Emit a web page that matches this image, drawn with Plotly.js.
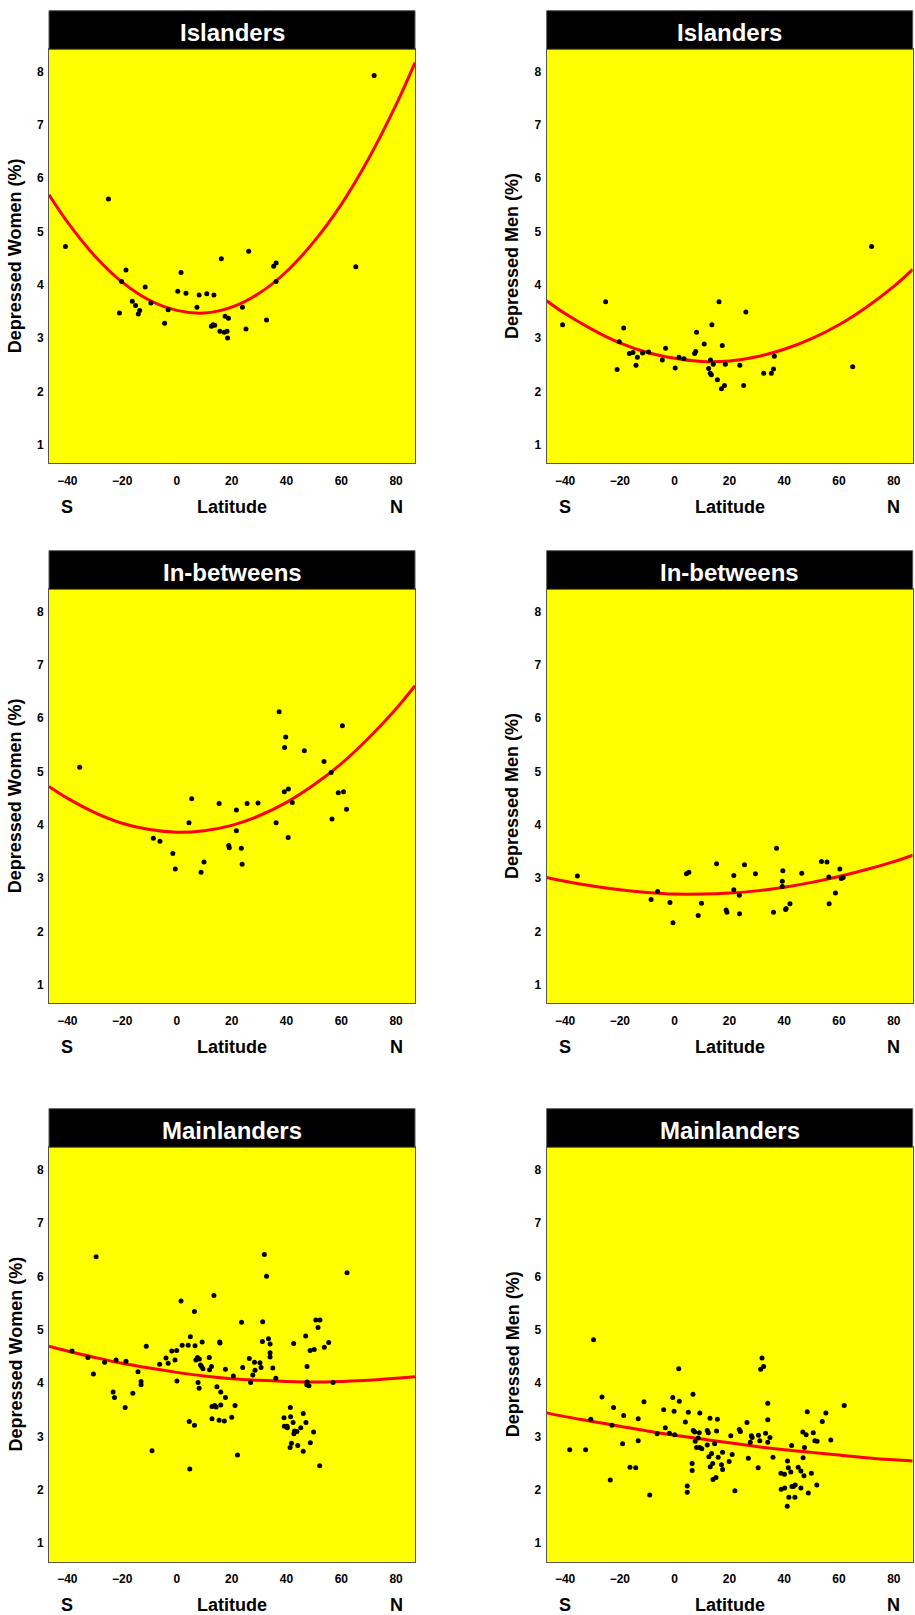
<!DOCTYPE html>
<html>
<head>
<meta charset="utf-8">
<script src="https://cdn.plot.ly/plotly-3.0.1.min.js"></script>
<style>
  html, body { margin: 0; padding: 0; background: #ffffff; }
  #chart { width: 915px; height: 1615px; }
</style>
</head>
<body>
<div id="chart"></div>
<script>
// ---------------- DATA ----------------
const panelTitles = ["Islanders", "In-betweens", "Mainlanders"];
const yTitles = ["Depressed Women (%)", "Depressed Men (%)"];
const xTickVals = [-40, -20, 0, 20, 40, 60, 80];
const yTickVals = [1, 2, 3, 4, 5, 6, 7, 8];
const xLabelLeft = "S", xLabelMid = "Latitude", xLabelRight = "N";

// Islanders – women
const islWomenLat = [72.0,-25.0,-40.7,-18.6,-20.2,-11.6,-16.3,-15.1,-13.6,-14.1,-21.0,-9.5,-3.2,-4.5,0.3,1.5,3.3,8.1,7.3,10.9,13.5,16.2,12.6,13.2,13.8,15.7,17.3,18.3,18.5,17.6,18.8,23.9,25.2,26.2,32.7,35.3,36.2,36.2,65.3];
const islWomenPct = [7.93,5.61,4.72,4.28,4.06,3.96,3.69,3.61,3.52,3.45,3.47,3.66,3.53,3.28,3.88,4.23,3.84,3.81,3.58,3.83,3.81,4.49,3.22,3.25,3.24,3.13,3.11,3.13,3.00,3.41,3.37,3.58,3.17,4.63,3.34,4.35,4.41,4.06,4.34];
// Islanders – men
const islMenLat = [71.9,-40.9,-25.2,-18.6,-20.2,-21.0,-16.5,-15.2,-13.6,-14.1,-11.7,-9.5,-4.5,-3.3,0.2,1.6,3.4,7.3,7.7,8.0,10.8,13.6,16.2,17.4,13.1,14.1,12.4,13.0,13.4,15.6,17.1,18.2,18.5,23.8,25.2,26.0,32.5,35.3,36.1,36.4,65.0];
const islMenPct = [4.72,3.25,3.68,3.19,2.93,2.41,2.71,2.73,2.64,2.49,2.72,2.74,2.59,2.81,2.44,2.64,2.61,2.71,2.75,3.11,2.89,3.25,3.68,2.86,2.59,2.51,2.43,2.34,2.31,2.22,2.05,2.11,2.51,2.49,2.11,3.49,2.34,2.34,2.42,2.66,2.46];
// In-betweens – women
const inbWomenLat = [-35.5,-8.6,-6.2,-1.5,-0.6,4.4,5.4,8.8,9.9,15.4,18.9,19.1,21.7,21.7,23.5,23.8,25.6,29.6,36.2,37.3,39.3,39.7,39.2,40.7,40.6,42.1,46.5,53.7,56.3,56.6,58.9,60.4,60.8,61.9];
const inbWomenPct = [5.08,3.75,3.69,3.46,3.17,4.04,4.49,3.11,3.30,4.40,3.61,3.57,4.28,3.89,3.56,3.26,4.40,4.41,4.04,6.12,5.45,5.65,4.62,4.67,3.76,4.42,5.39,5.19,4.98,4.11,4.60,5.86,4.62,4.29];
// In-betweens – men
const inbMenLat = [-35.5,-8.6,-6.2,-1.7,-0.6,4.3,5.2,8.6,9.8,15.3,18.8,19.1,21.6,21.6,23.6,23.7,25.5,29.5,36.1,37.2,39.3,39.5,39.3,40.5,40.7,42.1,46.4,53.6,55.6,56.3,56.4,58.7,60.3,60.8,61.5];
const inbMenPct = [3.04,2.60,2.75,2.54,2.16,3.08,3.11,2.30,2.53,3.27,2.40,2.36,3.05,2.78,2.68,2.33,3.25,3.08,2.36,3.56,2.94,3.14,2.84,2.41,2.43,2.52,3.09,3.31,3.30,3.02,2.52,2.72,3.17,2.99,3.01];
// Mainlanders – women
const mainWomenLat = [-29.5,-38.3,-32.5,-30.5,-26.4,-22.2,-18.6,-23.3,-22.8,-18.9,
  -16.1,-14.2,-13.1,-13.1,-11.2,-9.1,-6.3,-4.0,-3.2,-1.9,
  -0.7,-0.1,0.0,1.5,1.9,4.1,4.9,4.5,4.7,6.4,
  6.6,6.4,6.9,7.5,8.2,7.7,8.1,8.6,9.2,9.0,
  9.5,11.8,11.9,12.6,12.8,12.8,13.5,13.8,14.3,14.6,
  15.4,15.6,15.7,16.0,16.0,17.3,17.7,17.7,20.0,20.6,
  21.2,22.1,23.6,24.0,26.4,26.9,27.7,28.3,28.5,30.3,
  30.7,31.3,31.2,31.9,32.7,33.4,34.0,34.0,34.0,35.0,
  36.1,39.1,39.2,40.2,40.3,41.4,41.5,41.3,41.8,42.4,
  42.6,42.7,42.9,43.8,44.1,45.2,46.1,46.1,47.0,47.1,
  47.5,47.4,48.2,47.5,48.7,48.6,49.9,50.1,50.7,51.5,
  52.2,52.1,53.8,55.4,57.0,62.1];
const mainWomenPct = [6.37,4.60,4.48,4.17,4.39,4.43,4.41,3.83,3.73,3.54,
  3.81,4.21,4.03,3.97,4.69,2.73,4.35,4.47,4.37,4.60,
  4.43,4.61,4.04,5.54,4.71,4.71,4.87,3.28,2.39,5.34,
  4.70,3.21,4.43,4.48,4.45,4.01,3.90,4.34,4.77,4.31,
  4.27,4.48,4.25,4.31,3.33,3.56,5.64,3.58,3.55,3.93,
  3.30,4.77,4.75,3.83,3.59,3.29,4.26,3.73,3.36,4.13,
  3.58,2.65,5.14,4.29,4.46,4.01,4.15,4.39,4.24,4.38,
  4.29,5.15,4.78,6.41,6.00,4.83,4.73,4.57,4.49,4.28,
  4.09,3.35,3.19,3.19,3.16,3.54,3.37,2.79,2.87,3.26,
  4.74,3.05,3.10,3.09,2.83,3.16,3.43,2.72,4.88,3.26,
  4.31,3.97,3.95,4.02,2.88,4.61,3.08,4.63,5.18,5.04,
  5.18,2.45,4.67,4.76,4.01,6.07];
// Mainlanders – men
const mainMenLat = [-38.3,-32.5,-30.6,-29.6,-26.5,-23.5,-22.9,-22.3,-19.0,-18.6,
  -16.3,-14.2,-13.3,-13.3,-11.2,-9.1,-6.4,-4.0,-3.4,-1.9,
  -0.7,-0.2,0.0,1.5,1.7,3.9,4.6,4.6,5.0,6.4,
  6.4,6.7,6.8,7.3,7.5,8.0,8.6,9.0,9.2,9.2,
  9.9,11.9,11.9,12.3,12.5,12.9,13.0,13.5,13.9,14.0,
  15.1,14.6,15.3,15.6,15.9,17.1,17.5,17.5,19.9,20.5,
  21.0,22.0,23.6,24.0,26.4,26.9,27.6,28.0,28.3,30.5,
  30.6,31.1,31.4,31.9,32.5,33.2,34.0,34.0,34.0,34.8,
  35.9,38.8,38.9,40.1,40.2,41.2,41.5,41.1,41.7,42.4,
  42.7,42.8,43.3,44.0,43.9,45.1,46.1,46.1,46.8,46.9,
  47.2,47.4,48.0,48.4,48.8,49.9,50.6,51.2,52.0,51.9,
  53.9,55.2,57.0,61.9];
const mainMenPct = [2.75,2.75,3.32,4.81,3.74,2.18,3.21,3.54,2.86,3.39,
  2.42,2.41,3.33,2.92,3.65,1.90,3.05,3.50,3.16,3.06,
  3.73,3.47,3.03,4.27,3.66,3.27,2.07,1.95,3.45,2.49,
  2.36,3.79,3.11,3.08,2.91,2.79,2.97,3.07,3.44,2.79,
  2.77,3.11,2.84,3.07,2.62,3.34,2.43,2.68,2.49,2.19,
  2.23,2.86,3.10,3.32,2.61,2.47,2.70,2.38,2.53,3.01,
  2.66,1.98,3.13,3.09,3.26,2.59,2.89,3.01,2.98,2.41,
  3.02,2.92,4.26,4.47,4.31,3.06,3.31,2.89,3.62,2.98,
  2.61,2.31,2.01,2.29,2.03,2.54,2.41,1.69,1.86,2.33,
  2.83,2.06,2.06,2.09,1.86,2.42,2.35,2.03,3.08,2.60,
  2.26,2.79,3.03,3.46,1.94,2.31,3.07,2.92,2.91,2.09,
  3.28,3.44,2.93,3.58];

// Fitted curves (values at these latitudes)
const curveLat = [-46.7,-40,-30,-20,-10,0,10,20,30,40,50,60,70,80,86.9];
const islWomenFit  = [5.69,5.18,4.54,4.05,3.71,3.52,3.47,3.58,3.84,4.25,4.81,5.51,6.37,7.38,8.17];
const islMenFit    = [3.70,3.46,3.16,2.91,2.73,2.62,2.56,2.57,2.65,2.79,2.99,3.25,3.58,3.97,4.29];
const inbWomenFit  = [4.72,4.50,4.23,4.03,3.91,3.86,3.89,3.99,4.17,4.42,4.75,5.15,5.63,6.18,6.61];
const inbMenFit    = [3.01,2.94,2.85,2.78,2.73,2.70,2.70,2.72,2.76,2.83,2.92,3.03,3.16,3.31,3.43];
const mainWomenFit = [4.69,4.60,4.48,4.37,4.28,4.20,4.13,4.08,4.05,4.03,4.02,4.03,4.05,4.09,4.12];
const mainMenFit   = [3.44,3.37,3.28,3.19,3.10,3.02,2.95,2.88,2.81,2.75,2.70,2.65,2.60,2.56,2.54];

// ---------------- LAYOUT ----------------
const W = 915, H = 1615;
const FONT = "Liberation Sans, Arial, Helvetica, sans-serif";
const colDom = [[49 / W, 415 / W], [546.7 / W, 912.7 / W]];
const rowDom = [[1 - 463.3 / H, 1 - 49.3 / H], [1 - 1003.3 / H, 1 - 589.3 / H], [1 - 1561.7 / H, 1 - 1147.3 / H]];
const barH = 38.6 / H;

const panels = [
  {row: 0, col: 0, lat: islWomenLat, pct: islWomenPct, fit: islWomenFit},
  {row: 0, col: 1, lat: islMenLat, pct: islMenPct, fit: islMenFit},
  {row: 1, col: 0, lat: inbWomenLat, pct: inbWomenPct, fit: inbWomenFit},
  {row: 1, col: 1, lat: inbMenLat, pct: inbMenPct, fit: inbMenFit},
  {row: 2, col: 0, lat: mainWomenLat, pct: mainWomenPct, fit: mainWomenFit},
  {row: 2, col: 1, lat: mainMenLat, pct: mainMenPct, fit: mainMenFit}
];

const traces = [];
const layout = {
  width: W, height: H,
  margin: {l: 0, r: 0, t: 0, b: 0},
  paper_bgcolor: "#ffffff",
  plot_bgcolor: "#ffff00",
  showlegend: false,
  font: {family: FONT, color: "#000000"},
  shapes: [],
  annotations: []
};

panels.forEach((p, i) => {
  const n = i + 1;
  const xa = n === 1 ? "x" : "x" + n;
  const ya = n === 1 ? "y" : "y" + n;
  const xKey = n === 1 ? "xaxis" : "xaxis" + n;
  const yKey = n === 1 ? "yaxis" : "yaxis" + n;

  traces.push({
    type: "scatter", mode: "lines", x: curveLat, y: p.fit,
    xaxis: xa, yaxis: ya,
    line: {color: "#ff0000", width: 3, shape: "spline", smoothing: 1},
    hoverinfo: "skip"
  });
  traces.push({
    type: "scatter", mode: "markers", x: p.lat, y: p.pct,
    xaxis: xa, yaxis: ya,
    marker: {color: "#000000", size: 5}
  });

  layout[xKey] = {
    domain: colDom[p.col], anchor: ya,
    range: [-46.7, 86.9], tickvals: xTickVals,
    ticks: "", showgrid: false, zeroline: false,
    showline: true, mirror: true, linecolor: "#555555", linewidth: 1,
    ticklabelstandoff: 6,
    tickfont: {family: FONT, size: 12, weight: "bold", color: "#000000"},
    fixedrange: true
  };
  layout[yKey] = {
    domain: rowDom[p.row], anchor: xa,
    range: [0.65, 8.42], tickvals: yTickVals,
    ticks: "", showgrid: false, zeroline: false,
    showline: true, mirror: true, linecolor: "#555555", linewidth: 1,
    ticklabelstandoff: 2,
    tickfont: {family: FONT, size: 12, weight: "bold", color: "#000000"},
    fixedrange: true
  };

  const top = rowDom[p.row][1];
  layout.shapes.push({
    type: "rect", xref: xa + " domain", x0: 0, x1: 1,
    yref: "paper", y0: top, y1: top + barH,
    fillcolor: "#000000", line: {color: "#555555", width: 1}
  });
  layout.annotations.push({
    text: panelTitles[p.row], showarrow: false,
    xref: xa + " domain", x: 0.5, xanchor: "center",
    yref: "paper", y: top + barH / 2 - 2 / H, yanchor: "middle",
    font: {family: FONT, size: 24, weight: "bold", color: "#ffffff"}
  });
  layout.annotations.push({
    text: yTitles[p.col], showarrow: false, textangle: -90,
    xref: xa + " domain", x: (15 - 49) / 366, xanchor: "center",
    yref: ya + " domain", y: 0.5, yanchor: "middle",
    font: {family: FONT, size: 18, weight: "bold", color: "#000000"}
  });
  const yLab = -(506.7 - 463.3) / 414;
  layout.annotations.push({
    text: xLabelMid, showarrow: false,
    xref: xa + " domain", x: 0.5, xanchor: "center",
    yref: ya + " domain", y: yLab, yanchor: "middle",
    font: {family: FONT, size: 18, weight: "bold", color: "#000000"}
  });
  layout.annotations.push({
    text: xLabelLeft, showarrow: false,
    xref: xa, x: xTickVals[0], xanchor: "center",
    yref: ya + " domain", y: yLab, yanchor: "middle",
    font: {family: FONT, size: 18, weight: "bold", color: "#000000"}
  });
  layout.annotations.push({
    text: xLabelRight, showarrow: false,
    xref: xa, x: xTickVals[xTickVals.length - 1], xanchor: "center",
    yref: ya + " domain", y: yLab, yanchor: "middle",
    font: {family: FONT, size: 18, weight: "bold", color: "#000000"}
  });
});

Plotly.newPlot("chart", traces, layout, {displayModeBar: false, staticPlot: true});
</script>
</body>
</html>
